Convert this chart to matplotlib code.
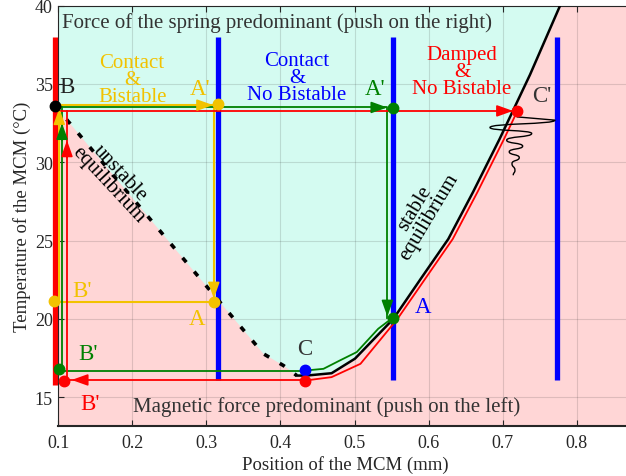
import numpy as np
import matplotlib
matplotlib.use("Agg")
import matplotlib.pyplot as plt
from matplotlib.path import Path
from matplotlib.patches import PathPatch

plt.rcParams['font.family'] = ['Liberation Serif', 'DejaVu Serif']

# colours
YEL = '#f2c200'
GRN = '#008000'
RED = '#ff0000'
BLU = '#0000ff'
TXT = '#333333'

# stable equilibrium curve (black)
stab_x = [0.422, 0.435, 0.469, 0.5006, 0.5524, 0.590, 0.6266, 0.66, 0.696, 0.737, 0.7775]
stab_y = [16.38, 16.38, 16.53, 17.46, 20.0, 22.6, 25.1, 28.1, 31.5, 35.6, 40.0]

# unstable equilibrium curve (dashed)
unst_x = [0.0955, 0.25, 0.377, 0.404, 0.422]
unst_y = [33.62, 24.9, 17.77, 17.02, 16.38]

# green cycle curve A -> C
grn_cx = [0.5515, 0.532, 0.503, 0.480, 0.458, 0.433]
grn_cy = [20.07, 19.37, 17.88, 17.34, 16.81, 16.70]

# red cycle curve C' -> C
red_cx = [0.72, 0.702, 0.666, 0.6326, 0.596, 0.558, 0.508, 0.469, 0.433]
red_cy = [33.29, 31.5, 28.1, 25.1, 22.6, 20.0, 17.13, 16.28, 16.06]

# yellow cycle (B -> A' -> A -> B' -> B)
yel_x = [0.0955, 0.310, 0.310, 0.0942]
yel_y = [33.65, 33.65, 21.1, 21.1]
yel_back_x = [0.1013, 0.1013]
yel_back_y = [21.1, 33.65]

# green cycle straight parts
grn_top_x = [0.0955, 0.5443, 0.5443]
grn_top_y = [33.5, 33.5, 20.07]
grn_bot_x = [0.433, 0.105, 0.105]
grn_bot_y = [16.68, 16.68, 33.5]

# red cycle straight parts
red_top_x = [0.0955, 0.72]
red_top_y = [33.28, 33.28]
red_bot_x = [0.433, 0.1117, 0.1117]
red_bot_y = [16.1, 16.1, 33.28]

# damped oscillation around C' (turning points)
wig_x = [0.719, 0.7707, 0.6829, 0.7392, 0.7054, 0.7270, 0.7089, 0.7224, 0.7126, 0.7166, 0.7143]
wig_y = [32.90, 32.69, 32.22, 31.84, 31.41, 31.03, 30.67, 30.30, 29.92, 29.49, 29.17]

# thick walls
wall_red_x = 0.0955
wall_blue_x = [0.3163, 0.5515, 0.774]
wall_lo_red, wall_lo_blue, wall_hi = 15.8, 16.1, 38.0

# points
pts_x = [0.0955, 0.316, 0.5515, 0.72, 0.0942, 0.3107, 0.5515, 0.101, 0.108, 0.433, 0.433]
pts_y = [33.62, 33.69, 33.48, 33.29, 21.11, 21.07, 20.07, 16.77, 16.06, 16.75, 16.06]
pts_c = ['k', YEL, GRN, RED, YEL, YEL, GRN, GRN, RED, BLU, RED]

# arrows (tail -> tip)
arr = [
    ((0.290, 33.65), (0.309, 33.65), YEL),
    ((0.310, 22.4), (0.310, 21.3), YEL),
    ((0.1013, 32.3), (0.1013, 33.45), YEL),
    ((0.105, 31.4), (0.105, 32.5), GRN),
    ((0.525, 33.5), (0.5443, 33.5), GRN),
    ((0.5443, 21.2), (0.5443, 20.15), GRN),
    ((0.1117, 30.3), (0.1117, 31.4), RED),
    ((0.696, 33.28), (0.714, 33.28), RED),
    ((0.136, 16.1), (0.118, 16.1), RED),
]

fig = plt.figure(figsize=(6.26, 4.77), dpi=100)
ax = fig.add_axes([0.0922, 0.1055, 0.9178, 0.8805])
ax.set_xlim(0.0992, 0.875)
ax.set_ylim(13.18, 40.0)
ax.set_facecolor('#ffd6d6')

# cyan region between unstable and stable equilibrium
poly_x = [0.0955, 0.0955, 0.7775] + stab_x[::-1] + unst_x[::-1]
poly_y = [33.62, 40.0, 40.0] + stab_y[::-1] + unst_y[::-1]
ax.fill(poly_x, poly_y, color='#d4fbf1', lw=0, zorder=0.2)

ax.set_axisbelow(True)
ax.grid(True, color='#262626', alpha=0.15, lw=0.8)

ax.plot([wall_red_x, wall_red_x], [wall_lo_red, wall_hi], color=RED, lw=3.8,
        solid_capstyle='butt', clip_on=False, zorder=2)
for xb in wall_blue_x:
    ax.plot([xb, xb], [wall_lo_blue, wall_hi], color=BLU, lw=3.8,
            solid_capstyle='butt', zorder=2)

ax.plot(stab_x, stab_y, color='k', lw=1.8, zorder=3)
ax.plot(unst_x, unst_y, color='k', lw=2.6, ls=(0, (1.6, 3.4)), zorder=3)

ax.plot(yel_x, yel_y, color=YEL, lw=1.5, zorder=4, clip_on=False)
ax.plot(yel_back_x, yel_back_y, color=YEL, lw=1.5, zorder=4)
ax.plot(grn_top_x, grn_top_y, color=GRN, lw=1.3, zorder=4, clip_on=False)
ax.plot(grn_cx, grn_cy, color=GRN, lw=1.3, zorder=4)
ax.plot(grn_bot_x, grn_bot_y, color=GRN, lw=1.3, zorder=4)
ax.plot(red_top_x, red_top_y, color=RED, lw=1.3, zorder=4, clip_on=False)
ax.plot(red_cx, red_cy, color=RED, lw=1.3, zorder=4)
ax.plot(red_bot_x, red_bot_y, color=RED, lw=1.3, zorder=4)

# damped wiggle as cubic Bezier pieces with vertical tangents at turning points
verts = [(wig_x[0], wig_y[0]), (wig_x[1], wig_y[1])]
codes = [Path.MOVETO, Path.LINETO]
for i in range(1, len(wig_x) - 1):
    dy = wig_y[i + 1] - wig_y[i]
    verts += [(wig_x[i], wig_y[i] + dy * 0.6), (wig_x[i + 1], wig_y[i + 1] - dy * 0.6),
              (wig_x[i + 1], wig_y[i + 1])]
    codes += [Path.CURVE4] * 3
ax.add_patch(PathPatch(Path(verts, codes), fc='none', ec='k', lw=1.0, zorder=4))

for (t, h, c) in arr:
    ax.annotate('', xy=h, xytext=t, zorder=4,
                arrowprops=dict(arrowstyle='-|>,head_length=0.7,head_width=0.25',
                                color=c, lw=1.2, shrinkA=0, shrinkB=0, mutation_scale=14))

for x, y, c in zip(pts_x, pts_y, pts_c):
    ax.plot(x, y, 'o', color=c, ms=7.5, zorder=5, clip_on=False)

# texts
ax.text(0.1048, 38.95, 'Force of the spring predominant (push on the right)', fontsize=15,
        color=TXT, ha='left', va='center', zorder=6)
ax.text(0.4625, 14.44, 'Magnetic force predominant (push on the left)', fontsize=15,
        color=TXT, ha='center', va='center', zorder=6)
ax.text(0.1997, 35.3, 'Contact\n&\nBistable', fontsize=15, color=YEL, ha='center',
        va='center', linespacing=0.86, zorder=6)
ax.text(0.4224, 35.4, 'Contact\n&\nNo Bistable', fontsize=15, color=BLU, ha='center',
        va='center', linespacing=0.86, zorder=6)
ax.text(0.645, 35.8, 'Damped\n&\nNo Bistable', fontsize=15, color=RED, ha='center',
        va='center', linespacing=0.86, zorder=6)
ax.text(0.1753, 28.96, 'unstable\nequilibrium', fontsize=15, color='k', ha='center',
        va='center', rotation=-47, rotation_mode='anchor', linespacing=0.85, zorder=6)
ax.text(0.5915, 26.8, 'stable\nequilibrium', fontsize=15, color='k', ha='center',
        va='center', rotation=59, rotation_mode='anchor', linespacing=0.85, zorder=6)

labels = [
    (0.1118, 34.84, 'B', '#222222'), (0.2916, 34.71, "A'", YEL), (0.5276, 34.71, "A'", GRN),
    (0.753, 34.26, "C'", '#333333'), (0.132, 21.79, "B'", YEL), (0.287, 20.0, 'A', YEL),
    (0.140, 17.78, "B'", GRN), (0.143, 14.58, "B'", RED), (0.433, 18.1, 'C', '#333333'),
    (0.5926, 20.78, 'A', BLU),
]
for x, y, s, c in labels:
    ax.text(x, y, s, fontsize=16.5, color=c, ha='center', va='center', zorder=6)

ax.set_xticks([0.1, 0.2, 0.3, 0.4, 0.5, 0.6, 0.7, 0.8])
ax.set_xticklabels(['0.1', '0.2', '0.3', '0.4', '0.5', '0.6', '0.7', '0.8'])
ax.set_yticks([15, 20, 25, 30, 35, 40])
ax.tick_params(direction='in', top=True, labelsize=13, colors='#262626', length=4)
ax.tick_params(axis='x', pad=6)
for s in ['left', 'top', 'bottom']:
    ax.spines[s].set_color('#262626')
ax.spines['bottom'].set_linewidth(1.5)
ax.spines['right'].set_visible(False)
ax.set_xlabel('Position of the MCM (mm)', fontsize=13.5, color='#262626', labelpad=3)
ax.set_ylabel('Temperature of the MCM (°C)', fontsize=13.5, color='#262626', labelpad=3)

fig.savefig('out.png', dpi=100)
